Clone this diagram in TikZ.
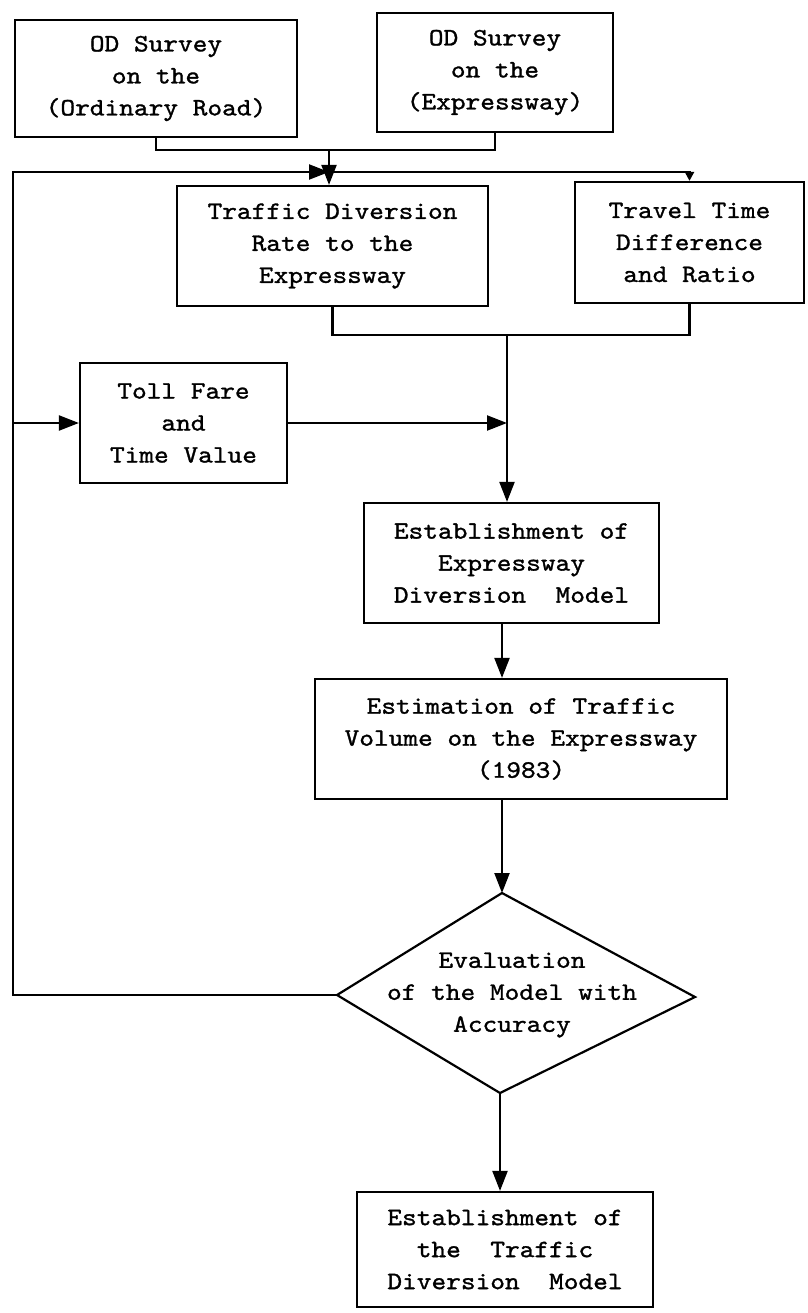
\documentclass[tikz,border=0pt]{standalone}
\usepackage{fontspec}
\newfontfamily\typewriter{lmmono10-regular.otf}[FakeStretch=1.12,FakeBold=1.2]
\usetikzlibrary{arrows.meta}
\begin{document}
\begin{tikzpicture}[x=1pt,y=-1pt,line width=2.2pt]
\tikzset{
  box/.style={draw, rectangle, inner sep=0pt, align=center,
    font=\typewriter\fontsize{25}{32}\selectfont},
  txt/.style={inner sep=0pt, align=center,
    font=\typewriter\fontsize{25}{32}\selectfont},
  flow/.style={-{Triangle[length=20pt,width=15pt]}},
  smallflow/.style={-{Triangle[length=9pt,width=9pt]}},
}
\useasboundingbox (0,0) rectangle (807,1313);

% survey boxes
\node[box, minimum width=282pt, minimum height=117pt] (odr) at (156,78.5)
  {OD Survey\\on the\\(Ordinary Road)};
\node[box, minimum width=236pt, minimum height=119pt] (ode) at (495,72.5)
  {OD Survey\\on the\\(Expressway)};

% diversion rate and travel time
\node[box, minimum width=311pt, minimum height=120pt] (rate) at (332.5,246)
  {Traffic Diversion\\Rate to the\\Expressway};
\node[box, minimum width=229pt, minimum height=121pt] (ttd) at (689.5,242.5)
  {Travel Time\\Difference\\and Ratio};

% toll fare
\node[box, minimum width=207pt, minimum height=120pt] (toll) at (183.5,423)
  {Toll Fare\\and\\Time Value};

% model and estimation
\node[box, minimum width=295pt, minimum height=120pt] (model) at (511.5,563)
  {Establishment of\\Expressway\\Diversion\ \ Model};
\node[box, minimum width=412pt, minimum height=120pt] (est) at (521,739)
  {Estimation of Traffic\\Volume on the Expressway\\(1983)};

% evaluation diamond
\coordinate (evT) at (502,893);
\coordinate (evR) at (695,997);
\coordinate (evB) at (500,1093);
\coordinate (evL) at (337,995);
\draw[line join=miter] (evT) -- (evR) -- (evB) -- (evL) -- cycle;
\node[txt] (eval) at (512,995) {Evaluation\\of the Model with\\Accuracy};

% final model
\node[box, minimum width=296pt, minimum height=115pt] (final) at (505,1249.5)
  {Establishment of\\the\ \ Traffic\\Diversion\ \ Model};

% junction points
\coordinate (j1) at (329,150);
\coordinate (j2) at (507,335);
\coordinate (lb) at (13,995);
\coordinate (lt) at (13,172);
\coordinate (xc) at (329,172);
\coordinate (tr) at (ttd.north |- xc);

% surveys merge into diversion rate
\draw (odr.south) |- (j1) -| (ode.south);
\draw[flow] (j1) -- (j1 |- rate.north);

% feedback loop from evaluation
\draw[flow] (evL) -- (lb) -- (lt) -- (xc);
\draw[smallflow] (xc) -- (tr) -- (ttd.north);
\draw[flow] (lt |- toll.west) -- (toll.west);

% inputs merge into model
\draw (rate.south) |- (j2) -| (ttd.south);
\draw[flow] (j2) -- (j2 |- model.north);
\draw[flow] (toll.east) -- (toll.east -| j2);

% main chain
\draw[flow] (model.south -| evT) -- (est.north -| evT);
\draw[flow] (est.south -| evT) -- (evT);
\draw[flow] (evB) -- (evB |- final.north);
\end{tikzpicture}
\end{document}
